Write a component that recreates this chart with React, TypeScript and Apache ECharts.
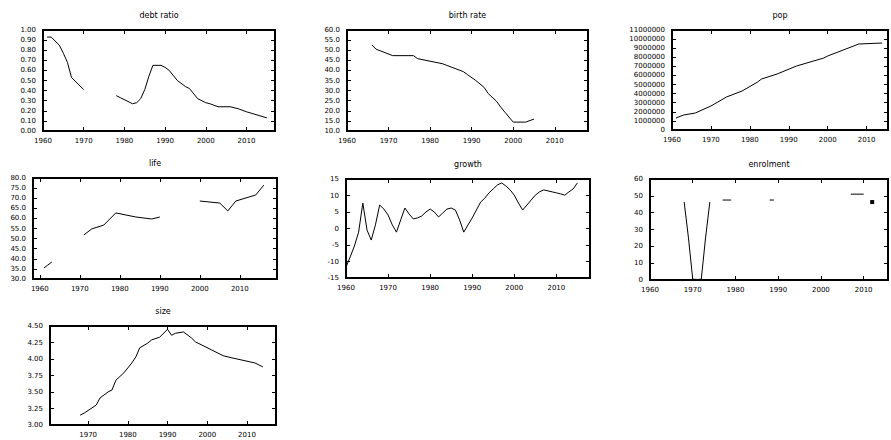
import { useEffect, useRef } from 'react';
import * as echarts from 'echarts';

// Panel titles
const TITLES = ['debt ratio', 'birth rate', 'pop', 'life', 'growth', 'enrolment', 'size'];

// debt ratio (null = missing years)
const debtYears = [1961, 1962, 1964, 1965, 1966, 1967, 1970, 1974, 1978, 1979, 1982, 1983, 1984, 1985, 1986, 1987, 1989, 1990, 1991, 1993, 1995, 1996, 1998, 2000, 2001, 2003, 2006, 2008, 2010, 2015];
const debtValues = [0.93, 0.93, 0.85, 0.77, 0.68, 0.53, 0.41, null, 0.35, 0.33, 0.27, 0.28, 0.32, 0.41, 0.54, 0.65, 0.65, 0.63, 0.6, 0.5, 0.44, 0.42, 0.32, 0.28, 0.27, 0.24, 0.24, 0.22, 0.19, 0.13];

// birth rate
const birthYears = [1966, 1967, 1971, 1976, 1977, 1983, 1984, 1988, 1989, 1991, 1993, 1994, 1996, 1997, 1998, 2000, 2003, 2005];
const birthValues = [52.6, 50.5, 47.3, 47.3, 45.8, 43.3, 42.5, 39.4, 37.9, 35.0, 31.6, 28.5, 24.7, 21.8, 19.3, 14.4, 14.4, 15.9];

// population
const popYears = [1961, 1963, 1966, 1970, 1974, 1978, 1982, 1983, 1987, 1992, 1999, 2000, 2008, 2014];
const popValues = [1320000, 1650000, 1870000, 2640000, 3630000, 4290000, 5280000, 5610000, 6160000, 7040000, 7920000, 8140000, 9460000, 9570000];

// life expectancy
const lifeYears = [1961, 1962, 1963, 1967, 1971, 1973, 1976, 1979, 1984, 1988, 1990, 1995, 2000, 2005, 2007, 2009, 2014, 2016];
const lifeValues = [35.4, 36.9, 38.4, null, 51.8, 54.8, 56.7, 62.7, 60.7, 59.7, 60.7, null, 68.6, 67.6, 63.7, 68.6, 71.6, 76.5];

// annual growth
const growthYears = [1960, 1961, 1962, 1963, 1964, 1965, 1966, 1967, 1968, 1969, 1970, 1971, 1972, 1973, 1974, 1975, 1976, 1977, 1978, 1979, 1980, 1981, 1982, 1983, 1984, 1985, 1986, 1987, 1988, 1989, 1990, 1991, 1992, 1993, 1994, 1995, 1996, 1997, 1998, 1999, 2000, 2001, 2002, 2003, 2004, 2005, 2006, 2007, 2008, 2009, 2010, 2011, 2012, 2013, 2014, 2015];
const growthValues = [-11.7, -8.6, -5.3, -1.1, 7.7, -0.5, -3.5, 1.1, 7.1, 5.9, 4.1, 1.1, -1.1, 2.6, 6.2, 4.4, 2.9, 3.2, 3.8, 5.0, 5.9, 5.0, 3.5, 4.7, 5.9, 6.2, 5.6, 2.6, -1.1, 1.1, 3.2, 5.6, 8.0, 9.2, 10.8, 12.0, 13.2, 13.8, 12.9, 11.7, 10.1, 7.7, 5.6, 7.1, 8.6, 10.1, 11.1, 11.7, 11.4, 11.1, 10.8, 10.5, 10.1, 11.1, 12.0, 13.8];

// enrolment (sparse, with gaps)
const enrolYears = [1968, 1969, 1970, 1971, 1972, 1973, 1974, 1975, 1977, 1978, 1979, 1981, 1988, 1989, 1990, 2007, 2010, 2011, 2012];
const enrolValues = [46.3, 25, 0.5, 0.3, 0.5, 25, 46.3, null, 47.5, 47.5, 47.5, null, 47.5, 47.5, null, 51, 51, null, 46.3];

// household size
const sizeYears = [1968, 1969, 1972, 1973, 1975, 1976, 1977, 1979, 1981, 1982, 1983, 1985, 1986, 1988, 1990, 1991, 1992, 1994, 1996, 1997, 2001, 2004, 2006, 2012, 2014];
const sizeValues = [3.15, 3.18, 3.3, 3.41, 3.5, 3.53, 3.68, 3.79, 3.94, 4.03, 4.17, 4.24, 4.29, 4.33, 4.45, 4.36, 4.39, 4.41, 4.32, 4.26, 4.14, 4.05, 4.02, 3.94, 3.88];

type Panel = {
  xs: number[];
  ys: (number | null)[];
  box: [number, number, number, number];
  xRange: [number, number];
  yRange: [number, number, number];
  fmt: (v: number) => string;
};

const panels: Panel[] = [
  { xs: debtYears, ys: debtValues, box: [43, 30, 232, 101], xRange: [1960, 2017], yRange: [0, 1, 0.1], fmt: (v) => v.toFixed(2) },
  { xs: birthYears, ys: birthValues, box: [347, 30, 241, 101], xRange: [1960, 2018], yRange: [10, 60, 5], fmt: (v) => v.toFixed(1) },
  { xs: popYears, ys: popValues, box: [672, 30, 216, 100], xRange: [1960, 2015.5], yRange: [0, 11000000, 1000000], fmt: (v) => String(Math.round(v)) },
  { xs: lifeYears, ys: lifeValues, box: [33, 178, 244, 101], xRange: [1958.3, 2019.3], yRange: [30, 80, 5], fmt: (v) => v.toFixed(1) },
  { xs: growthYears, ys: growthValues, box: [346, 179, 244, 99], xRange: [1960, 2018], yRange: [-15, 15, 5], fmt: (v) => String(v) },
  { xs: enrolYears, ys: enrolValues, box: [650, 179, 238, 101], xRange: [1960, 2015.7], yRange: [0, 60, 10], fmt: (v) => String(v) },
  { xs: sizeYears, ys: sizeValues, box: [50, 326, 226, 99], xRange: [1960.4, 2017.3], yRange: [3, 4.5, 0.25], fmt: (v) => v.toFixed(2) },
];

const INK = '#000';
const FONT = 'DejaVu Sans';
const TICK = 4;
const DECADE = 10;

// only whole decades get a year label
const yearLabel = (v: number) => (Math.abs(v % DECADE) < 1e-6 ? String(Math.round(v)) : '');

function buildOption() {
  const grid: any[] = [];
  const xAxis: any[] = [];
  const yAxis: any[] = [];
  const series: any[] = [];
  const graphic: any[] = [];

  panels.forEach((p, i) => {
    const [left, top, width, height] = p.box;
    const [xMin, xMax] = p.xRange;
    const [yMin, yMax, yStep] = p.yRange;
    grid.push({ left, top, width, height, containLabel: false, show: true, borderColor: INK, borderWidth: 2 });

    // panel title, centred over its plot
    graphic.push({
      type: 'text',
      x: left + width / 2,
      y: top - 15,
      style: { text: TITLES[i], fill: INK, font: `8px "${FONT}"`, textAlign: 'center', textVerticalAlign: 'middle' },
      silent: true,
    });

    const tick = { show: true, inside: true, length: TICK, lineStyle: { color: INK, width: 1 } };
    const line = { show: true, onZero: false, lineStyle: { color: INK, width: 2 } };
    const xBase = {
      type: 'value',
      gridIndex: i,
      min: xMin,
      max: xMax,
      minInterval: DECADE,
      maxInterval: DECADE,
      splitLine: { show: false },
      axisLine: line,
      axisTick: tick,
    };
    xAxis.push({
      ...xBase,
      position: 'bottom',
      axisLabel: { fontSize: 7, color: INK, fontFamily: FONT, margin: 6, formatter: yearLabel },
    });
    xAxis.push({ ...xBase, position: 'top', axisLabel: { show: false } });

    const yBase = {
      type: 'value',
      gridIndex: i,
      min: yMin,
      max: yMax,
      interval: yStep,
      splitLine: { show: false },
      axisLine: line,
      axisTick: tick,
    };
    yAxis.push({
      ...yBase,
      position: 'left',
      axisLabel: { fontSize: 7, color: INK, fontFamily: FONT, margin: 7, formatter: p.fmt },
    });
    yAxis.push({ ...yBase, position: 'right', axisLabel: { show: false } });

    // a value with no neighbours gets a small square so it stays visible
    const data = p.xs.map((x, k) => {
      const y = p.ys[k];
      const prev = k > 0 ? p.ys[k - 1] : null;
      const next = k < p.ys.length - 1 ? p.ys[k + 1] : null;
      if (y !== null && prev === null && next === null) {
        return { value: [x, y], symbol: 'rect', symbolSize: 4 };
      }
      return [x, y];
    });

    series.push({
      type: 'line',
      xAxisIndex: 2 * i,
      yAxisIndex: 2 * i,
      data,
      symbol: 'none',
      connectNulls: false,
      itemStyle: { color: INK },
      lineStyle: { color: INK, width: 1 },
    });
    // top and right edges of the frame, drawn on the panel's own scales
    series.push({
      type: 'line',
      xAxisIndex: 2 * i + 1,
      yAxisIndex: 2 * i + 1,
      data: [[xMin, yMax], [xMax, yMax], [xMax, yMin]],
      symbol: 'none',
      clip: false,
      lineStyle: { color: INK, width: 2 },
    });
  });

  return { animation: false, graphic, grid, xAxis, yAxis, series };
}

export default function App() {
  const ref = useRef<HTMLDivElement>(null);
  useEffect(() => {
    if (!ref.current) return;
    const chart = echarts.init(ref.current, null, { renderer: 'svg' });
    chart.setOption(buildOption() as any);
    return () => chart.dispose();
  }, []);
  return <div ref={ref} style={{ position: 'absolute', left: 0, top: 0, width: 891, height: 440, background: '#fff' }} />;
}
